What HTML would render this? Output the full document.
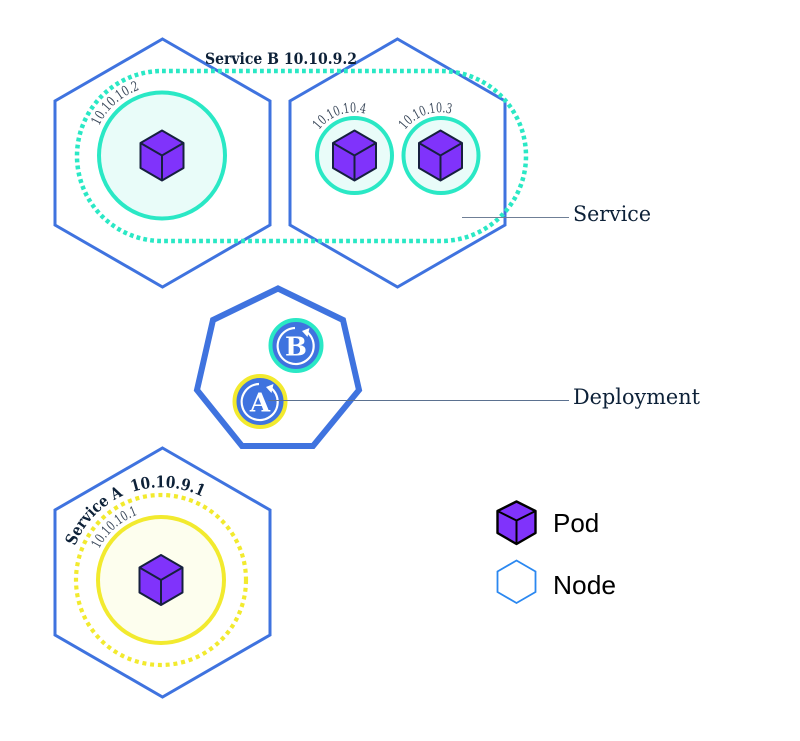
<!DOCTYPE html>
<html>
<head>
<meta charset="utf-8">
<style>
html,body{margin:0;padding:0;background:#fff;}
svg{display:block;}
.ip{font-family:"DejaVu Serif","Liberation Serif",serif;font-size:13.5px;fill:#3c4a5c;}
.b{font-family:"DejaVu Serif","Liberation Serif",serif;font-weight:bold;font-size:16px;fill:#0d2138;}
.l{font-family:"DejaVu Serif","Liberation Serif",serif;font-size:21px;fill:#0d2138;}
.s{font-family:"Liberation Sans",sans-serif;font-size:26px;fill:#000;}
.ab{font-family:"DejaVu Serif","Liberation Serif",serif;font-weight:bold;font-size:26px;fill:#fff;text-anchor:middle;}
</style>
</head>
<body>
<svg width="800" height="741" viewBox="0 0 800 741" xmlns="http://www.w3.org/2000/svg">
<defs>
<g id="cube">
<path d="M0,-25 L21.5,-12.5 L21.5,12.5 L0,25 L-21.5,12.5 L-21.5,-12.5 Z" fill="#8033fb" stroke="#16203f" stroke-width="2" stroke-linejoin="round"/>
<path d="M-21.5,-12.5 L0,0 L21.5,-12.5 M0,0 L0,25" fill="none" stroke="#16203f" stroke-width="2"/>
</g>
<path id="p1" d="M99,126 A69,69 0 0 1 145,88"/>
<path id="p2" d="M319,130 A44,44 0 0 1 372,116"/>
<path id="p3" d="M405,130 A44,44 0 0 1 458,116"/>
<path id="p4" d="M99,549 A70,70 0 0 1 143,513"/>
<path id="p5" d="M75,546 A93,93 0 0 1 210,501"/>
</defs>

<!-- Hexagons -->
<g fill="none" stroke="#3f73df" stroke-width="3">
<path d="M162.500,39 L270,101 L270,225 L162.500,287 L55,225 L55,101 Z"/>
<path d="M397.500,39 L505,101 L505,225 L397.500,287 L290,225 L290,101 Z"/>
<path d="M162.500,448 L270,510 L270,635 L162.500,697 L55,635 L55,510 Z"/>
</g>

<!-- Service B -->
<rect x="77" y="71" width="449" height="170" rx="85" ry="85" fill="none" stroke="#2ae8c5" stroke-width="4.500" stroke-dasharray="3.800 3.200"/>
<circle cx="162" cy="155.500" r="63" fill="#e9fcf9" stroke="#2ae8c5" stroke-width="4"/>
<circle cx="354.500" cy="155.500" r="37.500" fill="#e9fcf9" stroke="#2ae8c5" stroke-width="4"/>
<circle cx="441" cy="155.500" r="37.500" fill="#e9fcf9" stroke="#2ae8c5" stroke-width="4"/>
<use href="#cube" x="162" y="155.500"/>
<use href="#cube" x="354.500" y="155.500"/>
<use href="#cube" x="440.500" y="155.500"/>
<text class="b" x="205" y="64" textLength="152" lengthAdjust="spacingAndGlyphs">Service B 10.10.9.2</text>
<text class="ip"><textPath href="#p1" textLength="56" lengthAdjust="spacingAndGlyphs">10.10.10.2</textPath></text>
<text class="ip"><textPath href="#p2" textLength="52" lengthAdjust="spacingAndGlyphs">10.10.10.4</textPath></text>
<text class="ip"><textPath href="#p3" textLength="52" lengthAdjust="spacingAndGlyphs">10.10.10.3</textPath></text>

<!-- Service label -->
<line x1="462" y1="217.500" x2="569" y2="217.500" stroke="#6f7f96" stroke-width="1"/>
<text class="l" x="573" y="221" textLength="78" lengthAdjust="spacingAndGlyphs">Service</text>

<!-- Deployment -->
<path d="M278,288.500 L343,320 L359,390 L313,446 L242,446 L197,390 L213,320 Z" fill="none" stroke="#3f73df" stroke-width="6"/>
<circle cx="296" cy="345.500" r="25.500" fill="#3f73df" stroke="#2ae8c5" stroke-width="4"/>
<circle cx="260" cy="401.500" r="25.500" fill="#3f73df" stroke="#f2ea2e" stroke-width="4"/>
<g fill="none" stroke="#fff" stroke-width="2.200">
<path d="M307,332 A18,18 0 1 1 295,328"/>
<path d="M271,388 A18,18 0 1 1 259,384"/>
</g>
<g fill="#fff">
<path d="M302,331 L309.500,328 L307.500,337 Z"/>
<path d="M266,387 L273.500,384 L271.500,393 Z"/>
</g>
<text class="ab" x="296" y="355.500">B</text>
<text class="ab" x="260" y="411.500">A</text>
<line x1="268" y1="400.500" x2="569" y2="400.500" stroke="#5b7190" stroke-width="1"/>
<text class="l" x="573" y="404" textLength="127" lengthAdjust="spacingAndGlyphs">Deployment</text>

<!-- Service A -->
<circle cx="161" cy="580" r="85" fill="none" stroke="#f2ea2e" stroke-width="4.200" stroke-dasharray="4 3.800"/>
<circle cx="161" cy="580" r="63" fill="#fdfeee" stroke="#f2ea2e" stroke-width="4"/>
<use href="#cube" x="161" y="580"/>
<text class="b"><textPath href="#p5" textLength="153" lengthAdjust="spacingAndGlyphs">Service A&#160;&#160;10.10.9.1</textPath></text>
<text class="ip"><textPath href="#p4" textLength="53" lengthAdjust="spacingAndGlyphs">10.10.10.1</textPath></text>

<!-- Legend -->
<path d="M516.500,501.500 L535.500,511 L535.500,533 L516.500,544 L497.500,533 L497.500,511 Z" fill="#8033fb" stroke="#000" stroke-width="2.400" stroke-linejoin="round"/>
<path d="M497.500,511 L516.500,520.500 L535.500,511 M516.500,520.500 L516.500,544" fill="none" stroke="#000" stroke-width="2"/>
<path d="M516.500,560.500 L535.500,571.500 L535.500,592 L516.500,603 L497.500,592 L497.500,571.500 Z" fill="none" stroke="#2b88f0" stroke-width="1.800"/>
<text class="s" x="553" y="532">Pod</text>
<text class="s" x="553" y="594" textLength="63" lengthAdjust="spacingAndGlyphs">Node</text>
</svg>
</body>
</html>
